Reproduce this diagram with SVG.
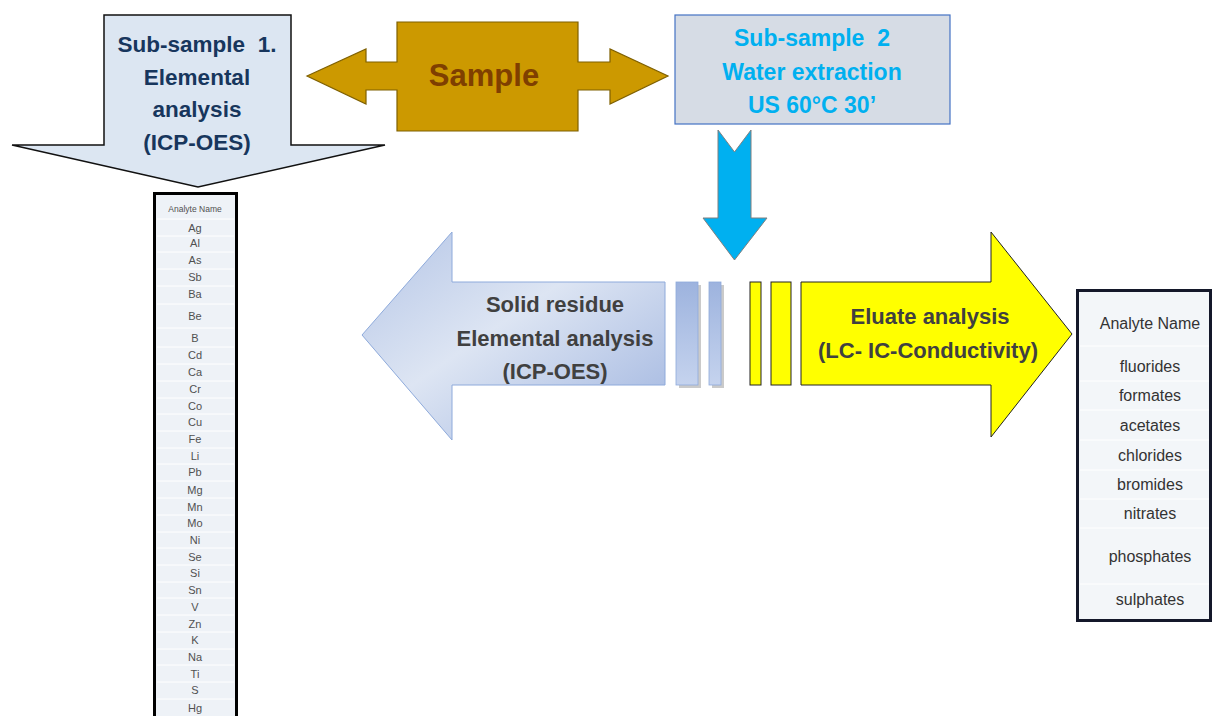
<svg xmlns="http://www.w3.org/2000/svg" width="1213" height="716" viewBox="0 0 1213 716">
<defs>
<style>
.b{font-family:"Liberation Sans",Arial,sans-serif;font-weight:bold;text-anchor:middle;white-space:pre}
.navy{fill:#17365d;font-size:22.5px}
.cyan{fill:#00b0f0;font-size:23px}
.gray{fill:#404040;font-size:22px}
.t{font-family:"Liberation Sans",Arial,sans-serif;text-anchor:middle;fill:#505050}
.ts{font-size:11px}
.tr{font-size:16px;fill:#333}
.sep{stroke:#ffffff;stroke-width:1}
</style>
<linearGradient id="solid" x1="0" y1="0" x2="1" y2="1">
<stop offset="0" stop-color="#b4c5e6"/>
<stop offset="0.45" stop-color="#dde5f3"/>
<stop offset="1" stop-color="#9fb4df"/>
</linearGradient>
<linearGradient id="strip" x1="0" y1="0" x2="0" y2="1">
<stop offset="0" stop-color="#9db3de"/>
<stop offset="1" stop-color="#c5d3ee"/>
</linearGradient>
</defs>
<rect width="1213" height="716" fill="#ffffff"/>

<g id="subsample1">
<path d="M104,15 H291 V145 H385 L198,187 L12,145 H104 Z" fill="#dce6f2" stroke="#111" stroke-width="1.5"/>
<text class="b navy" x="197" y="52">Sub-sample  1.</text>
<text class="b navy" x="197" y="85">Elemental</text>
<text class="b navy" x="197" y="117">analysis</text>
<text class="b navy" x="197" y="150">(ICP-OES)</text>
</g>

<g id="sample">
<path d="M307,76 L366,49 V62 H397 V22 H578 V62 H610 V49 L668,76 L610,104 V90 H578 V131 H397 V90 H366 V104 Z" fill="#cc9900" stroke="#7f6000" stroke-width="1.2"/>
<text class="b" x="484" y="86" font-size="31" fill="#7f3f00">Sample</text>
</g>

<g id="subsample2">
<rect x="675" y="15" width="275" height="109" fill="#d6dce5" stroke="#4472c4" stroke-width="1.2"/>
<text class="b cyan" x="812" y="46">Sub-sample  2</text>
<text class="b cyan" x="812" y="80">Water extraction</text>
<text class="b cyan" x="812" y="113">US 60°C 30’</text>
</g>

<g id="connectors">
<path d="M718,130 L734.5,152 L751,130 V218 H767 L734.5,260 L703,218 H718 Z" fill="#00b0f0" stroke="#7f7f7f" stroke-width="1"/>
</g>

<g id="solid-residue">
<rect x="679" y="285" width="22" height="103" fill="#a6a6a6" opacity="0.6"/>
<rect x="712" y="285" width="12" height="103" fill="#a6a6a6" opacity="0.6"/>
<path d="M362,335 L452,232 V282 H665 V385 H452 V440 Z" fill="url(#solid)" stroke="#8eaadb" stroke-width="1"/>
<rect x="676" y="282" width="22" height="103" fill="url(#strip)" stroke="#8eaadb" stroke-width="0.8"/>
<rect x="709" y="282" width="12" height="103" fill="url(#strip)" stroke="#8eaadb" stroke-width="0.8"/>
<text class="b gray" x="555" y="312">Solid residue</text>
<text class="b gray" x="555" y="346">Elemental analysis</text>
<text class="b gray" x="555" y="379">(ICP-OES)</text>
</g>

<g id="eluate">
<rect x="750" y="282" width="11" height="103" fill="#ffff00" stroke="#222" stroke-width="1"/>
<rect x="771" y="282" width="20" height="103" fill="#ffff00" stroke="#222" stroke-width="1"/>
<path d="M801,282 H991 V232 L1072,334 L991,437 V385 H801 Z" fill="#ffff00" stroke="#222" stroke-width="1"/>
<text class="b gray" x="930" y="324">Eluate analysis</text>
<text class="b gray" x="928" y="358">(LC- IC-Conductivity)</text>
</g>

<g id="table-elements">
<rect x="154.5" y="193.5" width="82" height="530" fill="#eef2f7" stroke="#000" stroke-width="3"/>
<g>
<line class="sep" x1="157" y1="219" x2="234" y2="219"/>
<line class="sep" x1="157" y1="236" x2="234" y2="236"/>
<line class="sep" x1="157" y1="252" x2="234" y2="252"/>
<line class="sep" x1="157" y1="269" x2="234" y2="269"/>
<line class="sep" x1="157" y1="286" x2="234" y2="286"/>
<line class="sep" x1="157" y1="304" x2="234" y2="304"/>
<line class="sep" x1="157" y1="328" x2="234" y2="328"/>
<line class="sep" x1="157" y1="347" x2="234" y2="347"/>
<line class="sep" x1="157" y1="364" x2="234" y2="364"/>
<line class="sep" x1="157" y1="381" x2="234" y2="381"/>
<line class="sep" x1="157" y1="398" x2="234" y2="398"/>
<line class="sep" x1="157" y1="414" x2="234" y2="414"/>
<line class="sep" x1="157" y1="431" x2="234" y2="431"/>
<line class="sep" x1="157" y1="448" x2="234" y2="448"/>
<line class="sep" x1="157" y1="464" x2="234" y2="464"/>
<line class="sep" x1="157" y1="481" x2="234" y2="481"/>
<line class="sep" x1="157" y1="498" x2="234" y2="498"/>
<line class="sep" x1="157" y1="515" x2="234" y2="515"/>
<line class="sep" x1="157" y1="532" x2="234" y2="532"/>
<line class="sep" x1="157" y1="548" x2="234" y2="548"/>
<line class="sep" x1="157" y1="565" x2="234" y2="565"/>
<line class="sep" x1="157" y1="582" x2="234" y2="582"/>
<line class="sep" x1="157" y1="598" x2="234" y2="598"/>
<line class="sep" x1="157" y1="615" x2="234" y2="615"/>
<line class="sep" x1="157" y1="632" x2="234" y2="632"/>
<line class="sep" x1="157" y1="649" x2="234" y2="649"/>
<line class="sep" x1="157" y1="665" x2="234" y2="665"/>
<line class="sep" x1="157" y1="682" x2="234" y2="682"/>
<line class="sep" x1="157" y1="699" x2="234" y2="699"/>
</g>
<text class="t" x="195" y="212" font-size="8.5">Analyte Name</text>
<text class="t ts" x="195" y="232">Ag</text>
<text class="t ts" x="195" y="247">Al</text>
<text class="t ts" x="195" y="264">As</text>
<text class="t ts" x="195" y="281">Sb</text>
<text class="t ts" x="195" y="298">Ba</text>
<text class="t ts" x="195" y="320">Be</text>
<text class="t ts" x="195" y="342">B</text>
<text class="t ts" x="195" y="359">Cd</text>
<text class="t ts" x="195" y="376">Ca</text>
<text class="t ts" x="195" y="393">Cr</text>
<text class="t ts" x="195" y="410">Co</text>
<text class="t ts" x="195" y="426">Cu</text>
<text class="t ts" x="195" y="443">Fe</text>
<text class="t ts" x="195" y="460">Li</text>
<text class="t ts" x="195" y="476">Pb</text>
<text class="t ts" x="195" y="494">Mg</text>
<text class="t ts" x="195" y="511">Mn</text>
<text class="t ts" x="195" y="527">Mo</text>
<text class="t ts" x="195" y="544">Ni</text>
<text class="t ts" x="195" y="561">Se</text>
<text class="t ts" x="195" y="577">Si</text>
<text class="t ts" x="195" y="594">Sn</text>
<text class="t ts" x="195" y="611">V</text>
<text class="t ts" x="195" y="628">Zn</text>
<text class="t ts" x="195" y="644">K</text>
<text class="t ts" x="195" y="661">Na</text>
<text class="t ts" x="195" y="678">Ti</text>
<text class="t ts" x="195" y="694">S</text>
<text class="t ts" x="195" y="712">Hg</text>
</g>

<g id="table-anions">
<rect x="1077.5" y="290.5" width="133" height="330" fill="#f3f6f9" stroke="#14182a" stroke-width="3"/>
<g>
<line class="sep" x1="1080" y1="346" x2="1209" y2="346"/>
<line class="sep" x1="1080" y1="381" x2="1209" y2="381"/>
<line class="sep" x1="1080" y1="410" x2="1209" y2="410"/>
<line class="sep" x1="1080" y1="440" x2="1209" y2="440"/>
<line class="sep" x1="1080" y1="470" x2="1209" y2="470"/>
<line class="sep" x1="1080" y1="499" x2="1209" y2="499"/>
<line class="sep" x1="1080" y1="528" x2="1209" y2="528"/>
<line class="sep" x1="1080" y1="584" x2="1209" y2="584"/>
</g>
<text class="t tr" x="1150" y="329">Analyte Name</text>
<text class="t tr" x="1150" y="372">fluorides</text>
<text class="t tr" x="1150" y="401">formates</text>
<text class="t tr" x="1150" y="431">acetates</text>
<text class="t tr" x="1150" y="461">chlorides</text>
<text class="t tr" x="1150" y="490">bromides</text>
<text class="t tr" x="1150" y="519">nitrates</text>
<text class="t tr" x="1150" y="562">phosphates</text>
<text class="t tr" x="1150" y="605">sulphates</text>
</g>
</svg>
